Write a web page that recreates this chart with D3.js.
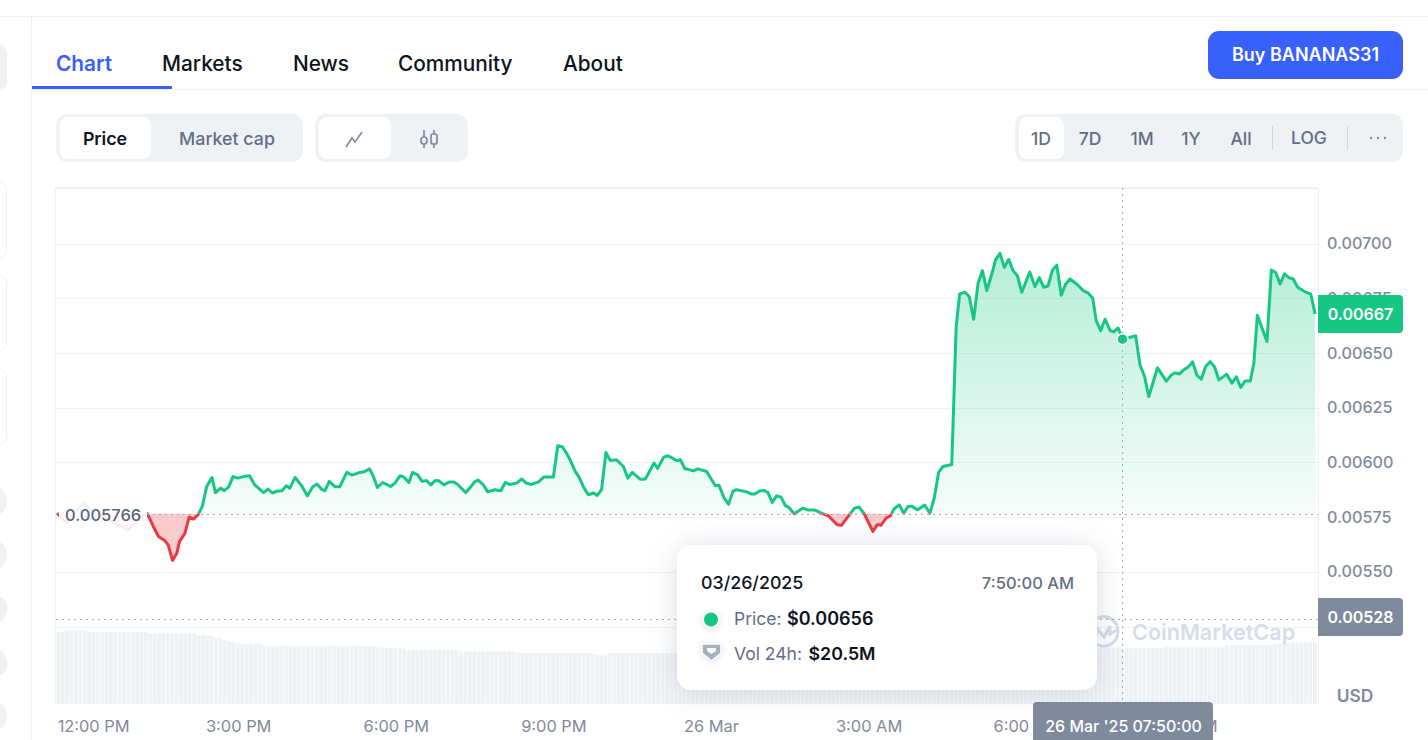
<!DOCTYPE html>
<html>
<head>
<meta charset="utf-8">
<script src="https://cdn.jsdelivr.net/npm/d3@7"></script>
<style>
	html, body { margin: 0; padding: 0; background: #fff; overflow: hidden; }
	svg { display: block; }
	text { font-family: Inter, "Noto Sans", sans-serif; }
</style>
</head>
<body>
<div id="chart"></div>
<script>
// minutes from midnight of 26 Mar
var priceMinutes = [
	-747,-736,-717,-704,-666,-645,-644,-637,-631,-624,-620,-615,-610,-607,-601,-596,-591,-586,-581,-576,
	-570,-566,-560,-556,-551,-546,-540,-534,-527,-521,-511,-506,-501,-495,-490,-485,-481,-475,-467,-461,
	-455,-450,-445,-441,-436,-430,-424,-416,-410,-401,-396,-390,-386,-381,-375,-366,-361,-355,-351,-345,
	-341,-335,-330,-325,-320,-315,-311,-305,-299,-294,-290,-280,-274,-270,-266,-260,-255,-247,-240,-235,
	-230,-222,-216,-211,-205,-197,-191,-180,-175,-170,-165,-161,-155,-151,-145,-140,-134,-130,-125,-120,
	-115,-108,-100,-95,-90,-81,-75,-65,-61,-54,-49,-39,-35,-30,-20,-15,-5,5,9,15,
	20,25,29,41,46,50,56,61,65,70,75,80,85,89,95,105,111,119,126,134,
	144,149,156,164,169,175,185,190,194,200,205,209,215,220,225,229,236,244,250,255,
	260,265,275,280,284,290,295,300,305,310,315,321,325,330,335,340,345,350,355,364,
	370,375,380,385,390,395,400,405,410,418,425,431,436,440,445,450,456,460,465,470,
	479,485,490,495,500,510,520,526,530,535,540,545,550,555,560,565,570,575,580,589,
	595,600,605,610,616,620,624,635,640,645,650,655,660,665,670,676,680,685,690
];
var priceValues = [
	0.005769,0.005724,0.005815,0.005769,0.005692,0.005768,0.005768,0.005707,0.005661,0.005643,0.005623,0.005552,0.005586,0.005639,0.005674,0.005750,0.005741,0.005760,0.005798,0.005890,
	0.005931,0.005862,0.005882,0.005871,0.005887,0.005935,0.005928,0.005935,0.005939,0.005897,0.005862,0.005878,0.005860,0.005869,0.005870,0.005893,0.005882,0.005931,0.005890,0.005847,
	0.005887,0.005901,0.005878,0.005870,0.005913,0.005890,0.005888,0.005954,0.005942,0.005954,0.005957,0.005970,0.005940,0.005885,0.005908,0.005890,0.005905,0.005939,0.005933,0.005908,
	0.005954,0.005943,0.005913,0.005917,0.005897,0.005917,0.005916,0.005897,0.005910,0.005910,0.005901,0.005862,0.005890,0.005911,0.005919,0.005897,0.005865,0.005875,0.005870,0.005908,
	0.005899,0.005905,0.005924,0.005905,0.005899,0.005911,0.005933,0.005933,0.006076,0.006072,0.006042,0.006012,0.005958,0.005935,0.005882,0.005852,0.005860,0.005849,0.005875,0.006045,
	0.006008,0.006012,0.005981,0.005928,0.005954,0.005923,0.005924,0.005997,0.005972,0.006024,0.006030,0.006008,0.006012,0.005972,0.005961,0.005970,0.005958,0.005893,0.005896,0.005837,
	0.005809,0.005867,0.005875,0.005865,0.005855,0.005855,0.005870,0.005871,0.005862,0.005817,0.005847,0.005841,0.005802,0.005794,0.005765,0.005791,0.005782,0.005782,0.005768,0.005756,
	0.005715,0.005712,0.005750,0.005791,0.005796,0.005765,0.005684,0.005716,0.005712,0.005745,0.005756,0.005787,0.005806,0.005768,0.005798,0.005800,0.005783,0.005805,0.005768,0.005837,
	0.005955,0.005981,0.005990,0.006618,0.006770,0.006777,0.006757,0.006654,0.006818,0.006876,0.006785,0.006864,0.006925,0.006955,0.006891,0.006928,0.006876,0.006852,0.006777,0.006870,
	0.006803,0.006844,0.006800,0.006806,0.006879,0.006901,0.006764,0.006814,0.006838,0.006814,0.006785,0.006773,0.006750,0.006646,0.006602,0.006654,0.006602,0.006596,0.006614,0.006563,
	0.006572,0.006578,0.006445,0.006395,0.006301,0.006432,0.006371,0.006400,0.006409,0.006404,0.006423,0.006435,0.006459,0.006398,0.006380,0.006438,0.006460,0.006438,0.006377,0.006403,
	0.006362,0.006391,0.006342,0.006372,0.006372,0.006453,0.006672,0.006552,0.006879,0.006867,0.006815,0.006861,0.006844,0.006838,0.006800,0.006785,0.006776,0.006770,0.006678
];
// 24h volume in $M, one bar every 5 minutes
var volumeStart = -747;
var volumeValues = [
	26.8,26.8,27.4,27.4,27.4,27.4,27.4,26.7,26.7,26.7,26.7,26.7,26.7,26.7,26.7,26.7,26.7,26.7,26.7,26.7,
	26.7,26.2,26.2,26.2,26.2,26.2,26.2,26.2,26.2,26.2,26.2,26.2,25.6,25.6,25.2,25.2,24.4,24.4,23.7,23.3,
	22.9,22.6,22.2,22.2,22.2,22.2,22.2,21.6,21.6,21.6,21.6,21.6,21.6,21.6,21.6,21.6,21.6,21.6,21.6,21.6,
	21.6,21.6,21.6,21.6,21.6,21.6,21.6,21.6,21.6,21.4,21.4,21.4,21.4,20.9,20.9,20.9,20.6,20.6,20.6,20.6,
	19.9,19.9,19.9,19.9,19.9,19.9,19.9,19.9,19.9,19.9,19.9,19.9,19.4,19.4,19.4,19.4,19.4,19.4,19.4,19.4,
	19.4,19.4,19.4,19.4,19.4,18.8,18.8,18.8,18.8,18.8,18.8,18.8,18.8,18.8,18.8,18.8,18.8,18.8,18.8,18.8,
	18.8,18.8,18.8,18.2,18.2,18.2,18.8,18.8,18.8,18.8,18.8,18.8,18.8,18.8,18.8,18.8,18.8,18.8,18.8,18.8,
	18.8,18.8,18.8,18.8,18.9,18.9,18.9,18.9,18.9,18.9,18.9,18.9,18.9,18.9,18.9,18.9,18.9,18.9,18.9,18.9,
	18.9,18.9,18.9,18.9,19.2,19.2,19.2,19.2,19.2,19.2,19.2,19.2,19.2,19.2,19.2,19.2,19.2,19.2,19.2,19.2,
	19.2,19.8,19.8,19.8,19.8,19.8,19.8,19.8,19.8,19.8,19.8,19.8,19.8,19.8,19.8,19.8,19.8,19.8,19.8,19.8,
	20.1,20.1,20.1,20.1,20.1,20.1,20.1,20.1,20.1,20.1,20.1,20.1,20.1,20.1,20.1,20.1,20.1,20.1,20.1,20.1,
	20.1,20.1,20.1,20.1,20.1,20.1,20.1,20.1,20.1,20.1,20.1,20.1,20.1,20.1,20.1,20.1,20.1,20.1,20.6,20.6,
	20.6,20.6,20.6,20.6,20.6,20.6,20.7,20.7,20.7,20.7,20.7,20.7,20.7,21.2,21.2,21.2,21.2,21.2,21.2,21.2,
	21.2,21.2,21.2,21.2,21.2,21.2,21.2,21.8,21.8,21.8,21.8,21.8,21.8,21.8,21.8,21.8,21.8,21.8,22.4,22.4,
	22.4,22.4,22.8,22.8,22.8,22.8,22.8,22.8
];
var priceTicks = [0.00700, 0.00675, 0.00650, 0.00625, 0.00600, 0.00575, 0.00550, 0.00525];
var timeTicks = [-720, -540, -360, -180, 0, 180, 360, 540];
var timeLabels = ['12:00 PM', '3:00 PM', '6:00 PM', '9:00 PM', '26 Mar', '3:00 AM', '6:00 AM', '9:00 AM'];
var basePrice = 0.005766;
var lastPrice = 0.00667;
var lowPrice = 0.00528;
var hoverMinute = 470;
var hoverPrice = 0.006563;
var tabNames = ['Chart', 'Markets', 'News', 'Community', 'About'];
var tabX = [56, 162, 293, 398, 563];
var rangeNames = ['1D', '7D', '1M', '1Y', 'All', 'LOG'];
var rangeX = [1041, 1090, 1142, 1191, 1241, 1309];

var GREEN = '#16c784', RED = '#ea3943', BLUE = '#3861fb', GREY = '#808a9d', INK = '#0d1421', SOFT = '#616e85', PALE = '#eff2f5';

var svg = d3.select('#chart').append('svg').attr('width', 1428).attr('height', 740);

var x = d3.scaleLinear().domain([0, 540]).range([711, 1183.8]);
var y = d3.scaleLinear().domain([0.00525, 0.00700]).range([626.5, 243.5]);
var yVol = d3.scaleLinear().domain([0, 20.5]).range([703, 648.5]);
var points = priceMinutes.map(function (m, i) { return [m, priceValues[i]]; });
var baseY = y(basePrice);

// 页面外框
svg.append('line').attr('x1', 0).attr('x2', 1428).attr('y1', 16.5).attr('y2', 16.5).attr('stroke', PALE);
svg.append('line').attr('x1', 31.5).attr('x2', 31.5).attr('y1', 16).attr('y2', 740).attr('stroke', PALE);
svg.append('line').attr('x1', 32).attr('x2', 1428).attr('y1', 89.5).attr('y2', 89.5).attr('stroke', PALE);

// 左侧栏
svg.append('rect').attr('x', -20).attr('y', 44).attr('width', 27).attr('height', 47).attr('rx', 9).attr('fill', PALE);
[[181, 78], [275, 77], [368, 77]].forEach(function (d) {
	svg.append('rect').attr('x', -20).attr('y', d[0]).attr('width', 26.5).attr('height', d[1]).attr('rx', 9)
		.attr('fill', '#fff').attr('stroke', PALE);
});
[486, 540, 594, 648, 701].forEach(function (d) {
	svg.append('rect').attr('x', -20).attr('y', d).attr('width', 27).attr('height', 30).attr('rx', 15).attr('fill', PALE);
});

// 标签页
svg.selectAll('.tab').data(tabNames).enter().append('text').attr('class', 'tab')
	.attr('x', function (d, i) { return tabX[i]; }).attr('y', 71)
	.attr('font-size', 20.8)
	.attr('font-weight', function (d, i) { return i == 0 ? 600 : 500; })
	.attr('fill', function (d, i) { return i == 0 ? BLUE : INK; })
	.text(function (d) { return d; });
svg.append('rect').attr('x', 32).attr('y', 86).attr('width', 140).attr('height', 3).attr('fill', BLUE);
svg.append('rect').attr('x', 1208).attr('y', 31).attr('width', 195).attr('height', 48).attr('rx', 11).attr('fill', BLUE);
svg.append('text').attr('x', 1305.5).attr('y', 61).attr('text-anchor', 'middle').attr('font-size', 18).attr('font-weight', 600)
	.attr('fill', '#fff').text('Buy BANANAS31');

// 工具栏
function group(gx, gw, wx, ww) {
	svg.append('rect').attr('x', gx).attr('y', 114).attr('width', gw).attr('height', 48).attr('rx', 11).attr('fill', PALE);
	svg.append('rect').attr('x', wx).attr('y', 117).attr('width', ww).attr('height', 42).attr('rx', 8).attr('fill', '#fff');
}
function label(tx, ty, str, size, weight, color, anchor) {
	return svg.append('text').attr('x', tx).attr('y', ty).attr('font-size', size).attr('font-weight', weight)
		.attr('fill', color).attr('text-anchor', anchor || 'middle').text(str);
}
group(56, 247, 60, 91);
group(315, 153, 319, 72);
group(1015, 388, 1019, 45);
label(105, 145, 'Price', 17.8, 600, INK);
label(227, 145, 'Market cap', 17.8, 500, SOFT);
svg.append('path').attr('d', 'M346 147L352 138L355 142L362 132').attr('fill', 'none').attr('stroke', GREY).attr('stroke-width', 1.6);
var candles = svg.append('g').attr('fill', 'none').attr('stroke', GREY).attr('stroke-width', 1.7);
candles.append('path').attr('d', 'M424 130V137M424 144V148M434 130V134M434 144V148');
candles.append('rect').attr('x', 421).attr('y', 137).attr('width', 6).attr('height', 7).attr('rx', 3);
candles.append('rect').attr('x', 431).attr('y', 134).attr('width', 6).attr('height', 10).attr('rx', 2);
svg.selectAll('.range').data(rangeNames).enter().append('text').attr('class', 'range')
	.attr('x', function (d, i) { return rangeX[i]; }).attr('y', function (d) { return d == 'LOG' ? 144 : 145; })
	.attr('text-anchor', 'middle').attr('font-size', 17.5).attr('font-weight', 500).attr('fill', SOFT)
	.text(function (d) { return d; });
[1272.5, 1347.5].forEach(function (d) {
	svg.append('line').attr('x1', d).attr('x2', d).attr('y1', 126).attr('y2', 150).attr('stroke', '#cfd6e4');
});
[1371, 1378, 1385].forEach(function (d) {
	svg.append('circle').attr('cx', d).attr('cy', 138).attr('r', 1.2).attr('fill', GREY);
});

// 图表边框
svg.append('path').attr('d', 'M55.500 703.500V188.500H1318.500V703.500H55.500').attr('fill', 'none').attr('stroke', '#eef0f3');
svg.append('line').attr('x1', 56).attr('x2', 1318).attr('y1', 188).attr('y2', 188).attr('stroke', '#e6e8ec');

// 价格轴和网格
var yAxis = d3.axisRight(y).tickValues(priceTicks).tickSize(0).tickPadding(9).tickFormat(d3.format('.5f'));
var yG = svg.append('g').attr('transform', 'translate(1318,0)').call(yAxis);
yG.select('.domain').remove();
yG.selectAll('text').attr('font-size', 16.2).attr('font-weight', 500).attr('fill', GREY).attr('font-family', 'Inter');
svg.selectAll('.grid').data(priceTicks).enter().append('line').attr('class', 'grid')
	.attr('x1', 56).attr('x2', 1318)
	.attr('y1', function (d) { return Math.round(y(d)) + 0.5; })
	.attr('y2', function (d) { return Math.round(y(d)) + 0.5; })
	.attr('stroke', PALE);

// 成交量
svg.selectAll('.vol').data(volumeValues).enter().append('rect').attr('class', 'vol')
	.attr('x', function (d, i) { return x(volumeStart + i * 5) - 0.5; })
	.attr('width', 3.8)
	.attr('y', function (d) { return yVol(d); })
	.attr('height', function (d) { return yVol(0) - yVol(d); })
	.attr('fill', PALE);

// 水印
var mark = svg.append('g').attr('fill', 'none').attr('stroke', '#d5dcea').attr('stroke-width', 3);
mark.append('path').attr('d', 'M1092 640A14.500 14.500 0 1 1 1118 632A14.500 14.500 0 0 1 1096 644');
mark.append('path').attr('d', 'M1096 637V627L1104 637L1110 626V634L1117 630');
label(1132, 640, 'CoinMarketCap', 21.6, 600, '#d5dcea', 'start');

// 基准线上下的面积和折线
var defs = svg.append('defs');
var grad = defs.append('linearGradient').attr('id', 'greenFill').attr('gradientUnits', 'userSpaceOnUse')
	.attr('x1', 0).attr('x2', 0).attr('y1', y(0.00695)).attr('y2', baseY);
grad.append('stop').attr('offset', 0).attr('stop-color', GREEN).attr('stop-opacity', 0.32);
grad.append('stop').attr('offset', 1).attr('stop-color', GREEN).attr('stop-opacity', 0.04);
defs.append('clipPath').attr('id', 'above').append('rect').attr('x', 50).attr('y', 188).attr('width', 1270).attr('height', baseY - 188);
defs.append('clipPath').attr('id', 'below').append('rect').attr('x', 50).attr('y', baseY).attr('width', 1270).attr('height', 703 - baseY);

var area = d3.area().x(function (d) { return x(d[0]); }).y1(function (d) { return y(d[1]); }).y0(baseY);
var line = d3.line().x(function (d) { return x(d[0]); }).y(function (d) { return y(d[1]); });

svg.append('path').datum(points).attr('d', area).attr('fill', 'url(#greenFill)').attr('clip-path', 'url(#above)');
svg.append('path').datum(points).attr('d', area).attr('fill', RED).attr('fill-opacity', 0.26).attr('clip-path', 'url(#below)');
svg.append('path').datum(points).attr('d', line).attr('fill', 'none').attr('stroke', GREEN).attr('stroke-width', 3)
	.attr('stroke-linejoin', 'round').attr('clip-path', 'url(#above)');
svg.append('path').datum(points).attr('d', line).attr('fill', 'none').attr('stroke', RED).attr('stroke-width', 3)
	.attr('stroke-linejoin', 'round').attr('clip-path', 'url(#below)');

// 虚线
function dotted(x1, y1, x2, y2) {
	svg.append('line').attr('x1', x1).attr('y1', y1).attr('x2', x2).attr('y2', y2)
		.attr('stroke', '#a3abb8').attr('stroke-width', 1).attr('stroke-dasharray', '2 4');
}
dotted(147, Math.round(baseY) + 0.5, 1318, Math.round(baseY) + 0.5);
dotted(56, Math.round(y(lowPrice)) - 0.5, 1318, Math.round(y(lowPrice)) - 0.5);
dotted(Math.round(x(hoverMinute)) - 0.5, 188, Math.round(x(hoverMinute)) - 0.5, 703);

// 基准价标签
svg.append('rect').attr('x', 59).attr('y', baseY - 16).attr('width', 88).attr('height', 34).attr('fill', '#fff').attr('fill-opacity', 0.9);
label(65, 521, d3.format('.6f')(basePrice), 16.500, 500, '#58667e', 'start');

// 悬停点
svg.append('circle').attr('cx', x(hoverMinute)).attr('cy', y(hoverPrice)).attr('r', 5.500).attr('fill', GREEN).attr('stroke', '#fff').attr('stroke-width', 1.500);

// 时间轴
var xAxis = d3.axisBottom(x).tickValues(timeTicks).tickSize(0).tickPadding(0)
	.tickFormat(function (d, i) { return timeLabels[i]; });
var xG = svg.append('g').attr('transform', 'translate(0,720)').call(xAxis);
xG.select('.domain').remove();
xG.selectAll('text').attr('font-size', 16.4).attr('fill', GREY).attr('font-family', 'Inter').attr('dy', '0.75em');
xG.selectAll('text').filter(function (d, i) { return i == 0; }).attr('dx', 12.5);

// 右侧价格标签
function priceTag(cy, value, color) {
	svg.append('path').attr('d', 'M1318 ' + (cy - 19) + 'H1399a4 4 0 0 1 4 4V' + (cy + 15) + 'a4 4 0 0 1 -4 4H1318Z').attr('fill', color);
	label(1360.5, cy + 6, d3.format('.5f')(value), 16, 600, '#fff');
}
priceTag(314, lastPrice, GREEN);
priceTag(617, lowPrice, GREY);
label(1355, 702, 'USD', 17.4, 600, GREY);

// 时间标签
svg.append('path').attr('d', 'M1033 740V706a4 4 0 0 1 4 -4H1209a4 4 0 0 1 4 4V740Z').attr('fill', GREY);
label(1123.5, 732, "26 Mar '25 07:50:00", 16, 500, '#fff');

// 提示框
svg.append('rect').attr('x', 677).attr('y', 545).attr('width', 420).attr('height', 145).attr('rx', 14).attr('fill', '#fff')
	.style('filter', 'drop-shadow(0 2px 14px rgba(88,102,126,0.22))');
label(701, 589, '03/26/2025', 17.8, 500, INK, 'start');
label(1074, 589, '7:50:00 AM', 16.500, 500, SOFT, 'end');
svg.append('circle').attr('cx', 711).attr('cy', 619.5).attr('r', 8).attr('fill', GREEN).attr('stroke', '#fff').attr('stroke-width', 2)
	.style('filter', 'drop-shadow(0 1px 3px rgba(88,102,126,0.2))');
label(734, 625, 'Price:', 17.5, 400, SOFT, 'start');
label(787, 625, '$0.00656', 18, 600, INK, 'start');
svg.append('path').attr('d', 'M702 644H721V653L711.500 661L702 653Z').attr('fill', '#a6b0c3').attr('stroke', '#fff').attr('stroke-width', 1.500)
	.style('filter', 'drop-shadow(0 1px 3px rgba(88,102,126,0.2))');
svg.append('path').attr('d', 'M707 648H716V651L711.500 654L707 651Z').attr('fill', '#fff');
label(734, 660, 'Vol 24h:', 17.5, 400, SOFT, 'start');
label(808.500, 660, '$20.5M', 17.8, 600, INK, 'start');
</script>
</body>
</html>
